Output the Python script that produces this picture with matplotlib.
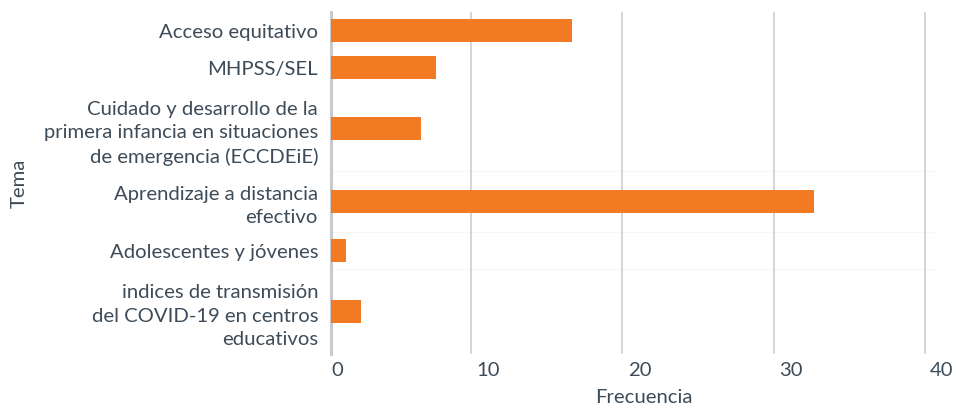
import matplotlib
matplotlib.use("Agg")
import matplotlib.pyplot as plt
from matplotlib.transforms import offset_copy

plt.rcParams['font.family'] = ['Lato', 'DejaVu Sans']

categories = [
    "Acceso equitativo",
    "MHPSS/SEL",
    "Cuidado y desarrollo de la\nprimera infancia en situaciones\nde emergencia (ECCDEiE)",
    "Aprendizaje a distancia\nefectivo",
    "Adolescentes y jóvenes",
    "indices de transmisión\ndel COVID-19 en centros\neducativos",
]
values = [16, 7, 6, 32, 1, 2]
x_ticks = [0, 10, 20, 30, 40]
x_label = "Frecuencia"
y_label = "Tema"

BAR = "#F17A23"
TEXT = "#3D4C58"
GRID = "#C9C9CE"

W, H, DPI = 956, 411, 100
fig = plt.figure(figsize=(W / DPI, H / DPI), dpi=DPI)
left_px, right_px, top_px, bot_px = 330.5, 934.9, 12, 354
ax = fig.add_axes([left_px / W, 1 - bot_px / H, (right_px - left_px) / W, (bot_px - top_px) / H])

for s in ['top', 'right', 'bottom']:
    ax.spines[s].set_visible(False)
ax.spines['left'].set_color(GRID)
ax.spines['left'].set_linewidth(2.2)

# row layout: height grows with number of label lines
line_h = 24
heights = [13 + line_h * (c.count("\n") + 1) for c in categories]
centers = []
acc = 0
for h in heights:
    centers.append(acc + h / 2)
    acc += h
total = acc

ax.barh(centers, values, height=23, color=BAR, zorder=3)
ax.set_ylim(total, 0)
ax.set_xlim(0, 40)
ax.set_xticks([])

FS = 14.6
ax.set_yticks(centers)
ax.set_yticklabels(categories, linespacing=1.45)
ax.tick_params(axis='y', length=0, pad=9, labelsize=FS, labelcolor=TEXT)

# gridlines
gtrans = offset_copy(ax.get_xaxis_transform(), fig=fig, x=-10.3, y=0, units='dots')
for t in x_ticks[1:]:
    ax.plot([t, t], [0.003, 0.997], transform=gtrans, color=GRID, lw=1.1, zorder=1)

# faint row separators
for i in (2, 3, 4):
    yb = sum(heights[:i + 1])
    ax.axhline(yb, color="#F6F6F7", lw=0.8, zorder=0)

# x tick labels
ltrans = offset_copy(ax.get_xaxis_transform(), fig=fig, x=7, y=-16, units='dots')
for t in x_ticks:
    ax.text(t, 0, str(t), transform=ltrans, ha='center', va='center',
            fontsize=FS, color=TEXT, clip_on=False)

fig.text(644 / W, 1 - 389 / H, x_label, ha='center', va='top', fontsize=FS, color=TEXT)
fig.text(19 / W, 1 - 183 / H, y_label, ha='center', va='center', rotation=90, fontsize=FS, color=TEXT)

fig.savefig("out.png", dpi=DPI)
